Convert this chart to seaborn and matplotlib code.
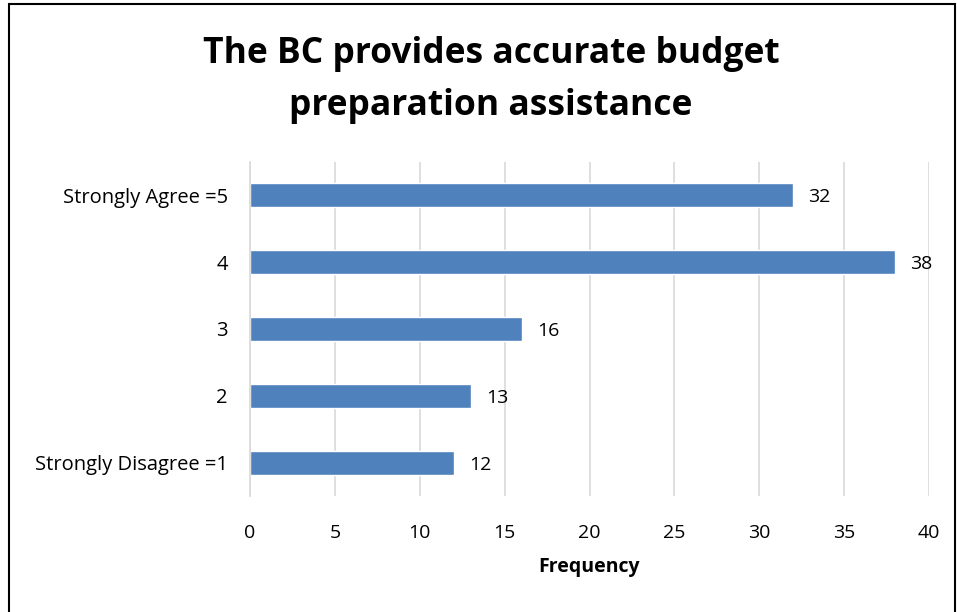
import matplotlib
matplotlib.use("Agg")
import matplotlib.pyplot as plt
import seaborn as sns
import pandas as pd
from matplotlib.patches import Rectangle

categories = ["Strongly Agree =5", "4", "3", "2", "Strongly Disagree =1"]
values = [32, 38, 16, 13, 12]
xticks = [0, 5, 10, 15, 20, 25, 30, 35, 40]

sns.set_theme(style="white")
plt.rcParams['font.family'] = ['Open Sans', 'DejaVu Sans']

df = pd.DataFrame({"cat": categories, "val": values})

fig = plt.figure(figsize=(9.57, 6.12), dpi=100)
ax = fig.add_axes([250/957, 1-496/612, 679/957, (496-162)/612])

sns.barplot(data=df, y="cat", x="val", orient="h", color="#4F81BD",
            saturation=1, width=0.36, ax=ax)

ax.set_xlim(0, 40)
ax.set_xticks(xticks)
ax.set_xticklabels([str(t) for t in xticks], fontsize=14)
ax.tick_params(axis="y", labelsize=14.5, length=0, pad=16)
ax.tick_params(axis="x", length=0, pad=20)
for lab in ax.get_yticklabels():
    lab.set_color("black")
for lab in ax.get_xticklabels():
    lab.set_color("black")
ax.grid(axis="x", color="#D9D9D9", linewidth=1.2)
ax.set_axisbelow(True)
for s in ["top", "right", "bottom"]:
    ax.spines[s].set_visible(False)
ax.spines["left"].set_color("#D9D9D9")
ax.spines["left"].set_linewidth(1.2)
ax.set_ylabel("")
ax.set_xlabel("Frequency", fontsize=14, fontweight="bold", labelpad=11, color="black")

for i, v in enumerate(values):
    ax.text(v + 0.9, i + 0.03, str(v), va="center", ha="left", fontsize=14, color="black")

fig.text(491/957, 1-54/612, "The BC provides accurate budget", ha="center", va="center",
         fontsize=25.5, fontweight="bold", color="black")
fig.text(491/957, 1-106/612, "preparation assistance", ha="center", va="center",
         fontsize=25.5, fontweight="bold", color="black")

fig.patches.append(Rectangle((9/957, -0.01), (955-9)/957, 1-4/612+0.01, transform=fig.transFigure,
                             fill=False, edgecolor="black", linewidth=1.5))

fig.savefig("out.png", dpi=100)
